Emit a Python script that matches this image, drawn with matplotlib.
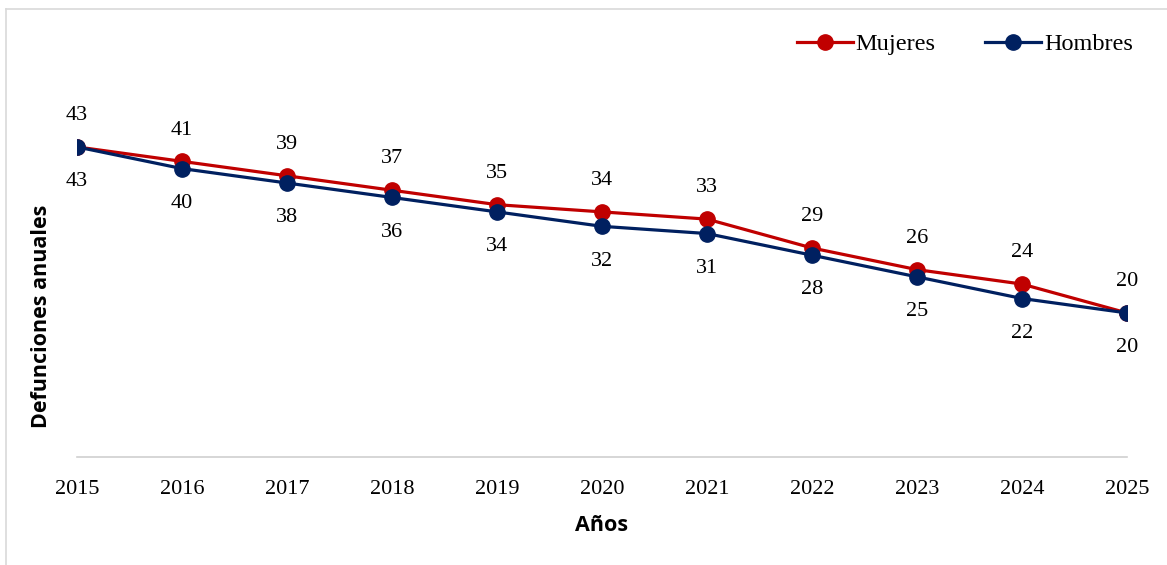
import matplotlib.pyplot as plt
from matplotlib.lines import Line2D

# data
years = [2015, 2016, 2017, 2018, 2019, 2020, 2021, 2022, 2023, 2024, 2025]
mujeres = [43, 41, 39, 37, 35, 34, 33, 29, 26, 24, 20]
hombres = [43, 40, 38, 36, 34, 32, 31, 28, 25, 22, 20]

RED = "#C00000"
NAVY = "#002060"
SERIF = "Liberation Serif"
SANS = "Open Sans"

W, H = 1167, 565
fig = plt.figure(figsize=(W / 100, H / 100), dpi=100)
ax = fig.add_axes([77 / W, (H - 457.3) / H, (1127 - 77) / W, 360.9 / H])

ax.plot(years, mujeres, color=RED, lw=2.3, marker="o", ms=11, zorder=3,
        label="Mujeres")
ax.plot(years, hombres, color=NAVY, lw=2.3, marker="o", ms=11, zorder=4,
        label="Hombres")

# data labels: women above, men below
for x, m, h in zip(years, mujeres, hombres):
    ax.annotate(str(m), (x, m), xytext=(0, 22.5), textcoords="offset points",
                ha="center", va="center", fontsize=16, family=SERIF)
    ax.annotate(str(h), (x, h), xytext=(0, -25), textcoords="offset points",
                ha="center", va="center", fontsize=16, family=SERIF)

ax.set_xlim(years[0], years[-1])
ax.set_ylim(0, 50)
ax.set_xticks(years)
ax.set_xticklabels([str(y) for y in years], fontsize=16, family=SERIF)
ax.set_yticks([])
ax.tick_params(axis="x", length=0, pad=16)

for s in ["top", "right", "left"]:
    ax.spines[s].set_visible(False)
ax.spines["bottom"].set_color("#D0D0D0")
ax.spines["bottom"].set_linewidth(1.2)

ax.set_xlabel("Años", fontsize=15.5, family=SANS, fontweight="bold", labelpad=12)
ax.set_ylabel("Defunciones anuales", fontsize=15.5, family=SANS,
              fontweight="bold")
ax.yaxis.set_label_coords(-25 / (1127 - 77), 0.39)

leg = ax.legend(loc="upper right", bbox_to_anchor=(1150 / W, (H - 16) / H),
                bbox_transform=fig.transFigure, ncol=2, frameon=False,
                prop={"family": SERIF, "size": 17.5}, handlelength=2.3,
                columnspacing=2.05, handletextpad=0.12, borderpad=0.2)

# outer chart border (top and left edges visible)
fig.add_artist(Line2D([6 / W, 1], [(H - 9) / H, (H - 9) / H],
                      transform=fig.transFigure, color="#D9D9D9", lw=1.2))
fig.add_artist(Line2D([6 / W, 6 / W], [0, (H - 9) / H],
                      transform=fig.transFigure, color="#D9D9D9", lw=1.2))

fig.savefig("out.png", dpi=100)
